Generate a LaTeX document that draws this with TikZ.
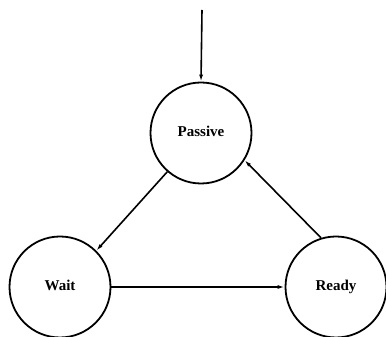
\documentclass[tikz,border=0pt]{standalone}
\usepackage{fontspec}
\setmainfont{Liberation Serif}
\usetikzlibrary{arrows.meta}
\begin{document}
\begin{tikzpicture}[x=1pt,y=1pt,
  state/.style={circle,draw,line width=1.8pt,minimum size=101pt,inner sep=0pt,
    text height=10pt,text depth=3pt,
    font=\fontsize{15}{18}\selectfont\bfseries},
  trans/.style={line width=1.6pt,-{Latex[length=7pt,width=4pt]}}]
\useasboundingbox (0,0) rectangle (386,337);
\node[state] (passive) at (201,204) {Passive};
\node[state] (wait) at (60,50) {Wait};
\node[state] (ready) at (336,50) {Ready};
\coordinate (init) at (202,327);
\draw[trans] (init) -- (passive.north);
\draw[trans] (passive.229) -- (wait.45);
\draw[trans] (wait.east) -- (ready.west);
\draw[trans] (ready.107) -- (passive.-32);
\end{tikzpicture}
\end{document}
